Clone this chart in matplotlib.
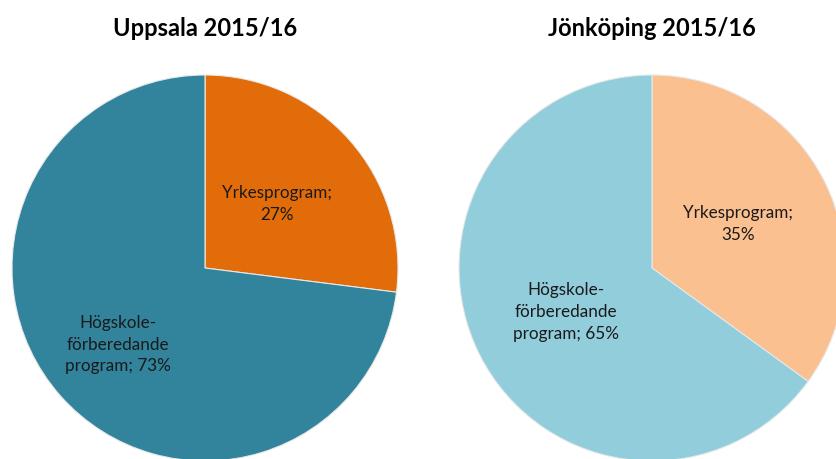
import numpy as np
from matplotlib import pyplot as plt

plt.rcParams['font.family'] = ['Lato', 'DejaVu Sans']

titles = ['Uppsala 2015/16', 'Jönköping 2015/16']
categories = ['Yrkesprogram', 'Högskole-\nförberedande\nprogram']
uppsala = [27, 73]
jonkoping = [35, 65]
colors_uppsala = ['#E36C0A', '#31849B']
colors_jonkoping = ['#FAC090', '#92CDDC']


def draw_pie(ax, values, colors, title, cx, dists, title_x):
    cy = 459 - 268
    r = 193
    wedges, _ = ax.pie(values, colors=colors, startangle=90, counterclock=False,
                       center=(cx, cy), radius=r, frame=True,
                       wedgeprops={'edgecolor': '#e8e8e8', 'linewidth': 0.8})
    for w, cat, v, d in zip(wedges, categories, values, dists):
        ang = np.deg2rad((w.theta1 + w.theta2) / 2)
        x = cx + d * r * np.cos(ang)
        y = cy + d * r * np.sin(ang)
        if cat == 'Yrkesprogram':
            txt = f'{cat};\n{v}%'
        else:
            txt = f'{cat}; {v}%'
        ax.text(x, y, txt, ha='center', va='center', fontsize=12.3,
                color='#1a1a1a', linespacing=1.45)
    ax.text(title_x, 459 - 28, title, ha='center', va='center',
            fontsize=17, fontweight='bold', color='black')


fig = plt.figure(figsize=(8.36, 4.59), dpi=100)
ax = fig.add_axes([0, 0, 1, 1])
draw_pie(ax, uppsala, colors_uppsala, titles[0], 205, [0.5, 0.6], 205)
draw_pie(ax, jonkoping, colors_jonkoping, titles[1], 652, [0.5, 0.5], 652)
ax.set_xlim(0, 836)
ax.set_ylim(0, 459)
ax.set_aspect('equal')
ax.set_axis_off()
fig.savefig('out.png', dpi=100, facecolor='white')
